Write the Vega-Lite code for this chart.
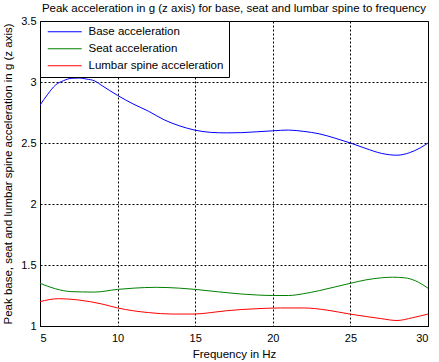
{
  "$schema": "https://vega.github.io/schema/vega-lite/v6.json",
  "width": 388,
  "height": 305,
  "autosize": {"type": "none"},
  "padding": {"left": 40, "top": 21, "right": 11, "bottom": 36},
  "background": "white",
  "title": {"text": "Peak acceleration in g (z axis) for base, seat and lumbar spine to frequency", "font": "Liberation Sans", "fontSize": 11.5, "fontWeight": "normal", "color": "black", "offset": 1, "anchor": "middle"},
  "data": {"values": [
    {"f": 5, "a": 2.81, "s": "Base acceleration"},
    {"f": 5.5, "a": 2.9, "s": "Base acceleration"},
    {"f": 6, "a": 2.975, "s": "Base acceleration"},
    {"f": 6.5, "a": 3.01, "s": "Base acceleration"},
    {"f": 7, "a": 3.03, "s": "Base acceleration"},
    {"f": 7.5, "a": 3.033, "s": "Base acceleration"},
    {"f": 8, "a": 3.024, "s": "Base acceleration"},
    {"f": 8.5, "a": 3.01, "s": "Base acceleration"},
    {"f": 9, "a": 2.97, "s": "Base acceleration"},
    {"f": 10, "a": 2.89, "s": "Base acceleration"},
    {"f": 11, "a": 2.82, "s": "Base acceleration"},
    {"f": 12, "a": 2.76, "s": "Base acceleration"},
    {"f": 13, "a": 2.69, "s": "Base acceleration"},
    {"f": 14, "a": 2.64, "s": "Base acceleration"},
    {"f": 15, "a": 2.605, "s": "Base acceleration"},
    {"f": 16, "a": 2.587, "s": "Base acceleration"},
    {"f": 17, "a": 2.583, "s": "Base acceleration"},
    {"f": 18, "a": 2.585, "s": "Base acceleration"},
    {"f": 19, "a": 2.592, "s": "Base acceleration"},
    {"f": 20, "a": 2.6, "s": "Base acceleration"},
    {"f": 21, "a": 2.606, "s": "Base acceleration"},
    {"f": 22, "a": 2.595, "s": "Base acceleration"},
    {"f": 23, "a": 2.575, "s": "Base acceleration"},
    {"f": 24, "a": 2.54, "s": "Base acceleration"},
    {"f": 25, "a": 2.5, "s": "Base acceleration"},
    {"f": 26, "a": 2.455, "s": "Base acceleration"},
    {"f": 27, "a": 2.415, "s": "Base acceleration"},
    {"f": 28, "a": 2.4, "s": "Base acceleration"},
    {"f": 28.8, "a": 2.42, "s": "Base acceleration"},
    {"f": 29.5, "a": 2.46, "s": "Base acceleration"},
    {"f": 30, "a": 2.5, "s": "Base acceleration"},
    {"f": 5, "a": 1.35, "s": "Seat acceleration"},
    {"f": 6, "a": 1.305, "s": "Seat acceleration"},
    {"f": 7, "a": 1.282, "s": "Seat acceleration"},
    {"f": 8.5, "a": 1.278, "s": "Seat acceleration"},
    {"f": 10, "a": 1.3, "s": "Seat acceleration"},
    {"f": 11, "a": 1.31, "s": "Seat acceleration"},
    {"f": 12.5, "a": 1.317, "s": "Seat acceleration"},
    {"f": 14, "a": 1.31, "s": "Seat acceleration"},
    {"f": 15, "a": 1.3, "s": "Seat acceleration"},
    {"f": 16.5, "a": 1.28, "s": "Seat acceleration"},
    {"f": 18, "a": 1.262, "s": "Seat acceleration"},
    {"f": 19, "a": 1.254, "s": "Seat acceleration"},
    {"f": 20, "a": 1.25, "s": "Seat acceleration"},
    {"f": 21, "a": 1.25, "s": "Seat acceleration"},
    {"f": 22, "a": 1.265, "s": "Seat acceleration"},
    {"f": 23, "a": 1.29, "s": "Seat acceleration"},
    {"f": 24, "a": 1.32, "s": "Seat acceleration"},
    {"f": 25, "a": 1.35, "s": "Seat acceleration"},
    {"f": 26, "a": 1.378, "s": "Seat acceleration"},
    {"f": 27, "a": 1.395, "s": "Seat acceleration"},
    {"f": 27.7, "a": 1.4, "s": "Seat acceleration"},
    {"f": 28.5, "a": 1.395, "s": "Seat acceleration"},
    {"f": 29.2, "a": 1.37, "s": "Seat acceleration"},
    {"f": 30, "a": 1.31, "s": "Seat acceleration"},
    {"f": 5, "a": 1.2, "s": "Lumbar spine acceleration"},
    {"f": 6.2, "a": 1.224, "s": "Lumbar spine acceleration"},
    {"f": 7.5, "a": 1.213, "s": "Lumbar spine acceleration"},
    {"f": 9, "a": 1.18, "s": "Lumbar spine acceleration"},
    {"f": 10, "a": 1.148, "s": "Lumbar spine acceleration"},
    {"f": 11, "a": 1.125, "s": "Lumbar spine acceleration"},
    {"f": 12, "a": 1.11, "s": "Lumbar spine acceleration"},
    {"f": 13.5, "a": 1.098, "s": "Lumbar spine acceleration"},
    {"f": 15, "a": 1.098, "s": "Lumbar spine acceleration"},
    {"f": 16, "a": 1.11, "s": "Lumbar spine acceleration"},
    {"f": 17, "a": 1.125, "s": "Lumbar spine acceleration"},
    {"f": 19, "a": 1.142, "s": "Lumbar spine acceleration"},
    {"f": 20.5, "a": 1.148, "s": "Lumbar spine acceleration"},
    {"f": 22, "a": 1.148, "s": "Lumbar spine acceleration"},
    {"f": 23.5, "a": 1.13, "s": "Lumbar spine acceleration"},
    {"f": 25, "a": 1.097, "s": "Lumbar spine acceleration"},
    {"f": 26, "a": 1.078, "s": "Lumbar spine acceleration"},
    {"f": 27, "a": 1.06, "s": "Lumbar spine acceleration"},
    {"f": 28, "a": 1.045, "s": "Lumbar spine acceleration"},
    {"f": 29, "a": 1.068, "s": "Lumbar spine acceleration"},
    {"f": 30, "a": 1.098, "s": "Lumbar spine acceleration"}
  ]},
  "mark": {"type": "line", "interpolate": "monotone", "strokeWidth": 1, "clip": true},
  "encoding": {
    "x": {"field": "f", "type": "quantitative", "scale": {"domain": [5, 30], "nice": false, "zero": false},
      "axis": {"title": "Frequency in Hz", "values": [5, 10, 15, 20, 25, 30], "labelPadding": 6, "titlePadding": 5}},
    "y": {"field": "a", "type": "quantitative", "scale": {"domain": [1, 3.5], "nice": false, "zero": false},
      "axis": {"title": "Peak base, seat and lumbar spine acceleration in g (z axis)", "values": [1, 1.5, 2, 2.5, 3, 3.5], "format": ".1~f", "labelPadding": 4, "titlePadding": 7}},
    "color": {"field": "s", "type": "nominal",
      "scale": {"domain": ["Base acceleration", "Seat acceleration", "Lumbar spine acceleration"], "range": ["#0000ff", "#008000", "#ff0000"]},
      "legend": {"title": null, "orient": "top-left", "offset": 0, "symbolType": "M-3.4,0H3.4", "symbolSize": 100, "symbolStrokeWidth": 1, "symbolFillColor": "transparent", "symbolOffset": 14, "rowPadding": 4, "labelOffset": 18, "padding": 5, "strokeColor": "black", "fillColor": "white", "labelFont": "Liberation Sans", "labelFontSize": 11.5, "labelColor": "black", "labelLimit": 300}}
  },
  "config": {
    "view": {"stroke": "black", "strokeWidth": 1},
    "axis": {"domainColor": "black", "ticks": false, "labelColor": "black", "titleColor": "black", "labelFont": "Liberation Sans", "titleFont": "Liberation Sans", "labelFontSize": 11, "titleFontSize": 11.5, "titleFontWeight": "normal", "grid": true, "gridColor": "black", "gridOpacity": 1, "gridDash": [2, 2], "gridWidth": 1}
  }
}
